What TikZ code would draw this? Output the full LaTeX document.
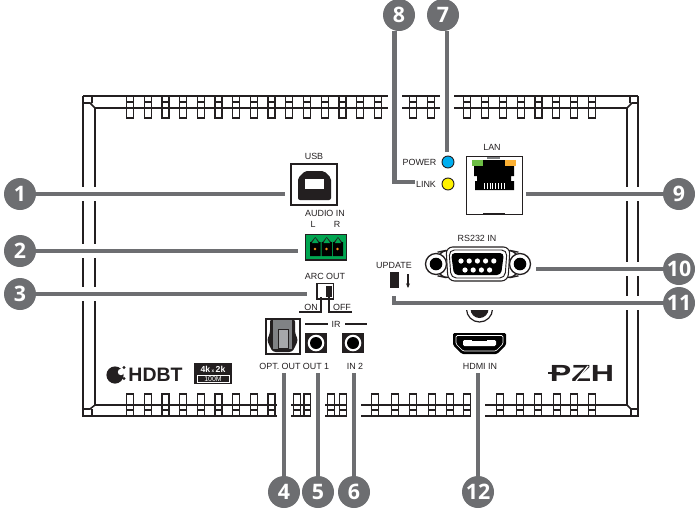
\documentclass[tikz,border=0pt]{standalone}
\usepackage{fontspec}
\setmainfont{Liberation Sans}
\newfontfamily\badgefont{Open Sans}
\usetikzlibrary{arrows.meta}
\definecolor{badgegray}{RGB}{109,110,113}
\definecolor{inkblack}{RGB}{35,31,32}
\definecolor{termgreen}{RGB}{0,166,81}
\definecolor{termorange}{RGB}{247,148,29}
\definecolor{ledblue}{RGB}{0,174,239}
\definecolor{ledyellow}{RGB}{255,242,0}
\definecolor{lanorange}{RGB}{251,176,52}
\definecolor{langreen}{RGB}{109,190,69}
\definecolor{optgray}{RGB}{128,130,133}
\tikzset{
  badge/.style={circle,fill=badgegray,text=white,minimum size=24pt,inner sep=0pt,font=\badgefont\bfseries\fontsize{16}{17}\selectfont},
  leader/.style={draw=badgegray,line width=3.1pt,preaction={draw=white,line width=10.5pt}},
  portlabel/.style={inner sep=0pt,text=inkblack,font=\fontsize{6.7}{8}\selectfont},
  frameline/.style={draw=inkblack,line width=1.15pt},
  finline/.style={draw=inkblack,line width=1pt,fill=white}
}
\begin{document}
\begin{tikzpicture}[x=0.75pt,y=0.75pt,yscale=-1,xscale=1]
\useasboundingbox (0,0) rectangle (695,511);
% enclosure
\draw [frameline] (83,96) -- (638,96) (95,108) -- (627,108) (83,96) -- (83,416) -- (638,416) -- (638,96) (95,405) -- (627,405) (95,108) -- (95,405) (627,108) -- (627,405);
\draw [frameline] (83,103) -- (90,103) -- (95,108) (92,96) -- (92,103) (638,103) -- (632,103) -- (627,108) (630,96) -- (630,103) (83,409) -- (90,409) -- (95,405) (92,409) -- (92,416) (638,409) -- (631,409) -- (627,405) (631,409) -- (631,416);
% top fins
\draw [finline] (126.5,96) rectangle (133.5,118) (144.2,96) rectangle (151.2,118) (161.9,96) rectangle (168.9,118) (179.6,96) rectangle (186.6,118) (197.3,96) rectangle (204.3,118) (215,96) rectangle (222,118) (232.7,96) rectangle (239.7,118) (250.4,96) rectangle (257.4,118) (268.1,96) rectangle (275.1,118) (285.8,96) rectangle (292.8,118) (303.5,96) rectangle (310.5,118) (321.2,96) rectangle (328.2,118) (338.9,96) rectangle (345.9,118) (356.6,96) rectangle (363.6,118) (374.3,96) rectangle (381.3,118) (409.7,96) rectangle (416.7,118) (427.4,96) rectangle (434.4,118) (463.5,96) rectangle (470.5,118) (481.5,96) rectangle (488.5,118) (499.5,96) rectangle (506.5,118) (517.5,96) rectangle (524.5,118) (535.1,96) rectangle (542.1,118) (552.8,96) rectangle (559.8,118) (570.5,96) rectangle (577.5,118) (588.2,96) rectangle (595.2,118);
\draw [frameline] (83,96) -- (638,96) (95,108) -- (627,108);
\draw [finline] (126.5,102) -- (133.5,102) (144.2,102) -- (151.2,102) (161.9,102) -- (168.9,102) (179.6,102) -- (186.6,102) (197.3,102) -- (204.3,102) (215,102) -- (222,102) (232.7,102) -- (239.7,102) (250.4,102) -- (257.4,102) (268.1,102) -- (275.1,102) (285.8,102) -- (292.8,102) (303.5,102) -- (310.5,102) (321.2,102) -- (328.2,102) (338.9,102) -- (345.9,102) (356.6,102) -- (363.6,102) (374.3,102) -- (381.3,102) (409.7,102) -- (416.7,102) (427.4,102) -- (434.4,102) (463.5,102) -- (470.5,102) (481.5,102) -- (488.5,102) (499.5,102) -- (506.5,102) (517.5,102) -- (524.5,102) (535.1,102) -- (542.1,102) (552.8,102) -- (559.8,102) (570.5,102) -- (577.5,102) (588.2,102) -- (595.2,102);
% bottom fins
\draw [finline] (126.5,394) rectangle (133.5,416) (144.2,394) rectangle (151.2,416) (161.9,394) rectangle (168.9,416) (179.6,394) rectangle (186.6,416) (197.3,394) rectangle (204.3,416) (215,394) rectangle (222,416) (232.7,394) rectangle (239.7,416) (250.4,394) rectangle (257.4,416) (268.1,394) rectangle (275.1,416) (293.5,394) rectangle (300.5,416) (304,394) rectangle (311,416) (327.5,394) rectangle (334.5,416) (339.5,394) rectangle (346.5,416) (371.5,394) rectangle (378.5,416) (391.5,394) rectangle (398.5,416) (409.5,394) rectangle (416.5,416) (428.5,394) rectangle (435.5,416) (446.5,394) rectangle (453.5,416) (463.5,394) rectangle (470.5,416) (496.5,394) rectangle (503.5,416) (516.5,394) rectangle (523.5,416) (534.5,394) rectangle (541.5,416) (553.5,394) rectangle (560.5,416) (570.5,394) rectangle (577.5,416) (588.5,394) rectangle (595.5,416);
\draw [frameline] (83,416) -- (638,416) (95,405) -- (627,405);
\draw [finline] (126.5,410) -- (133.5,410) (144.2,410) -- (151.2,410) (161.9,410) -- (168.9,410) (179.6,410) -- (186.6,410) (197.3,410) -- (204.3,410) (215,410) -- (222,410) (232.7,410) -- (239.7,410) (250.4,410) -- (257.4,410) (268.1,410) -- (275.1,410) (293.5,410) -- (300.5,410) (304,410) -- (311,410) (327.5,410) -- (334.5,410) (339.5,410) -- (346.5,410) (371.5,410) -- (378.5,410) (391.5,410) -- (398.5,410) (409.5,410) -- (416.5,410) (428.5,410) -- (435.5,410) (446.5,410) -- (453.5,410) (463.5,410) -- (470.5,410) (496.5,410) -- (503.5,410) (516.5,410) -- (523.5,410) (534.5,410) -- (541.5,410) (553.5,410) -- (560.5,410) (570.5,410) -- (577.5,410) (588.5,410) -- (595.5,410);
% jack above HDMI, cut by leader 11
\begin{scope}
\clip (460,309) rectangle (500,330);
\fill [inkblack] (479.5,309) circle [radius=9];
\draw [inkblack,line width=0.9pt] (479.5,309) circle [radius=13];
\end{scope}
% number badges
\node [badge] (badge1) at (20,194) {1};
\node [badge] (badge2) at (20,251) {2};
\node [badge] (badge3) at (20,294) {3};
\node [badge] (badge4) at (284,492) {4};
\node [badge] (badge5) at (318,492) {5};
\node [badge] (badge6) at (354,492) {6};
\node [badge] (badge7) at (443,15) {7};
\node [badge] (badge8) at (399,15) {8};
\node [badge] (badge9) at (679,194) {9};
\node [badge] (badge10) at (679,269) {10};
\node [badge] (badge11) at (679,303) {11};
\node [badge] (badge12) at (478,492) {12};
\coordinate (usbend) at (285,194);
\coordinate (audioend) at (298,251);
\coordinate (arcend) at (307,294);
\coordinate (optend) at (284,373);
\coordinate (outend) at (318,373);
\coordinate (inend) at (354,373);
\coordinate (powerend) at (447,152);
\coordinate (linkend) at (415,182);
\coordinate (lanend) at (526,194);
\coordinate (rsend) at (536,269);
\coordinate (updateend) at (394,296);
\coordinate (hdmiend) at (478,373);
\draw [leader] (badge1) -- (usbend);
\draw [leader] (badge2) -- (audioend);
\draw [leader] (badge3) -- (arcend);
\draw [leader] (badge4) -- (optend);
\draw [leader] (badge5) -- (outend);
\draw [leader] (badge6) -- (inend);
\draw [leader] (badge7.south -| powerend) -- (powerend);
\draw [leader] (badge8.south -| 394.5,0) |- (linkend);
\draw [leader] (badge9) -- (lanend);
\draw [leader] (badge10) -- (rsend);
\draw [leader] (badge11) -| (updateend);
\draw [leader] (badge12) -- (hdmiend);
% USB
\draw [inkblack,line width=1.5pt,fill=white] (291,164) rectangle (337,205);
\fill [inkblack,rounded corners=1.5pt] (298,178) -- (305,171) -- (324,171) -- (331,178) -- (331,200) -- (298,200) -- cycle;
\fill [white] (305,179) rectangle (324,189);
\node [portlabel] (usblabel) at (314,156) {USB};
% audio terminal
\draw [inkblack,line width=0.8pt,fill=termgreen] (305.5,234.5) rectangle (346.5,260);
\fill [black] (310,242) rectangle (320.5,256) (321.5,242) rectangle (332,256) (333,242) rectangle (343,256);
\fill [inkblack] (311,242) -- (315.2,237) -- (319.5,242) (322.5,242) -- (326.7,237) -- (331,242) (334,242) -- (338,237) -- (342,242);
\fill [termgreen] (312,243) -- (315.2,238) -- (318.5,243) (323.5,243) -- (326.7,238) -- (330,243) (335,243) -- (338,238) -- (341,243);
\fill [termorange] (315,249) circle [radius=1.3] (326.5,249) circle [radius=1.3] (337.5,249) circle [radius=1.3];
\node [portlabel] (audiolabel) at (325,213) {AUDIO IN};
\node [portlabel] (audioleft) at (313,224) {L};
\node [portlabel] (audioright) at (337,224) {R};
% ARC switch
\draw [inkblack,line width=1.1pt,fill=white] (317,283.5) rectangle (333.5,299);
\fill [inkblack] (325.5,285.5) rectangle (331.5,297);
\draw [inkblack,line width=0.8pt] (299,312) -- (321,312) -- (321,297) (352,312) -- (329,312) -- (329,297);
\node [portlabel] (arclabel) at (325,276) {ARC OUT};
\node [portlabel] (arcon) at (311,307) {ON};
\node [portlabel] (arcoff) at (342,307) {OFF};
% optical out
\draw [inkblack,line width=1.5pt,fill=white] (265.5,318.5) rectangle (299.5,353.5);
\fill [inkblack,rounded corners=2pt] (270,319) -- (295,319) -- (295,333) -- (298,340) -- (295,347) -- (292,352) -- (273,352) -- (270,347) -- (267,340) -- (270,333) -- cycle;
\fill [optgray] (273,319.5) -- (292,319.5) -- (292,349) -- (273,349) -- cycle;
\draw [inkblack,line width=0.5pt,fill=optgray!70] (278,329) rectangle (288,348);
\node [portlabel] (optlabel) at (280,366) {OPT. OUT};
% IR jacks
\draw [inkblack,line width=0.8pt] (305,324) -- (328,324) (345,324) -- (367,324);
\node [portlabel] (irlabel) at (336,324) {IR};
\fill [inkblack] (305,333) rectangle (327,353);
\fill [white] (316,343) circle [radius=8.3];
\fill [black] (316,343) circle [radius=6];
\fill [inkblack] (342,333) rectangle (364,353);
\fill [white] (353,343) circle [radius=8.3];
\fill [black] (353,343) circle [radius=6];
\node [portlabel] (outonelabel) at (316,366) {OUT 1};
\node [portlabel] (intwolabel) at (355,366) {IN 2};
% LEDs
\draw [inkblack,line width=0.7pt,fill=ledblue] (448,162) circle [radius=6];
\draw [inkblack,line width=0.7pt,fill=ledyellow] (448,184) circle [radius=6];
\node [portlabel] (powerlabel) at (419.5,162) {POWER};
\node [portlabel] (linklabel) at (426,184) {LINK};
% LAN
\draw [inkblack,line width=0.6pt,fill=white] (466,156) rectangle (522,214);
\draw [inkblack,line width=1.2pt] (483,214) -- (505,214);
\draw [optgray,line width=0.8pt] (487,158) -- (500,158);
\fill [black] (474,166) -- (514,166) -- (514,176) -- (511,176) -- (511,181) -- (514,181) -- (514,190) -- (475,190) -- (475,181) -- (477,181) -- (477,176) -- (474,176) -- cycle;
\fill [black] (483,160) rectangle (505,166);
\fill [langreen] (472,159.5) rectangle (483,166);
\fill [lanorange] (505,159.5) rectangle (516,166);
\draw [white,line width=4pt,dash pattern=on 0.7pt off 1.4pt] (484,186) -- (505,186);
\node [portlabel] (lanlabel) at (492,147) {LAN};
% RS232
\draw [inkblack,line width=1pt,fill=white,rounded corners=8pt] (436,252.5) -- (448,250) -- (508,250) -- (520,252.5) -- (520,275.5) -- (508,278) -- (448,278) -- (436,275.5) -- cycle;
\draw [inkblack,line width=1pt,fill=white] (436,264) circle [radius=10.5];
\draw [inkblack,line width=1pt,fill=white] (520,264) circle [radius=10.5];
\fill [black] (436,264) circle [radius=6.3] (520,264) circle [radius=6.3];
\draw [inkblack,line width=0.8pt,fill=white,rounded corners=5pt] (446,247) -- (510,247) -- (508,281) -- (448,281) -- cycle;
\draw [inkblack,line width=0.7pt,rounded corners=4pt] (449,250) -- (507,250) -- (505,278) -- (451,278) -- cycle;
\fill [black,rounded corners=3pt] (451,253) -- (504,253) -- (501,275) -- (454,275) -- cycle;
\fill [white] (461,261) circle [radius=2.6] (469.2,261) circle [radius=2.6] (477.4,261) circle [radius=2.6] (485.6,261) circle [radius=2.6] (493.8,261) circle [radius=2.6] (465,270) circle [radius=2.6] (473.2,270) circle [radius=2.6] (481.4,270) circle [radius=2.6] (489.6,270) circle [radius=2.6];
\node [portlabel] (rslabel) at (477,238) {RS232 IN};
% update
\fill [inkblack] (390,272) rectangle (399,288);
\draw [-{Stealth[length=3.5pt,width=3pt]},inkblack,line width=0.8pt] (408,274) -- (408,288);
\node [portlabel] (updatelabel) at (394,265) {UPDATE};
% HDMI
\fill [black,rounded corners=1pt] (453,333) -- (506,333) -- (506,345) -- (497,354) -- (462,354) -- (453,345) -- cycle;
\draw [white,line width=0.5pt,rounded corners=1pt] (456,335.5) -- (503,335.5) -- (503,344) -- (496,351) -- (463,351) -- (456,344) -- cycle;
\fill [white,rounded corners=1pt] (463,340) rectangle (496,346);
\draw [black,line width=0.7pt] (472,340) -- (487,340);
\node [portlabel] (hdmilabel) at (480,366) {HDMI IN};
% logos
\fill [inkblack] (115,375) circle [radius=8.6];
\fill [white] (121,372) circle [radius=3.2];
\fill [white] (123,377) rectangle (127,383);
\fill [inkblack] (124,378.5) circle [radius=1.6] (124,367.5) circle [radius=1.6];
\node [inner sep=0pt,text=inkblack,font=\bfseries\fontsize{14.6}{15}\selectfont] (hdbtlogo) at (155.5,375) {HDBT};
\fill [inkblack] (194,363) rectangle (232,384);
\draw [white,fill=inkblack,line width=0.6pt] (197,375.5) rectangle (229,382);
\node [inner sep=0pt,text=white,font=\bfseries\fontsize{6.5}{7}\selectfont] (fourklabel) at (213,369.5) {4k\,{\fontsize{3.5}{4}\selectfont x}\,2k};
\node [inner sep=0pt,text=white,font=\fontsize{5.2}{6}\selectfont] (speedlabel) at (213,378.8) {100M};
\node [inner sep=0pt,text=inkblack,xscale=1.38,font=\bfseries\fontsize{17.5}{18}\selectfont] (pzhlogo) at (582,373.5) {PZH};
\draw [inkblack,line width=1.8pt] (548,373) -- (560,373);
\draw [white,line width=1pt] (576,381) -- (588,366);
\end{tikzpicture}
\end{document}
